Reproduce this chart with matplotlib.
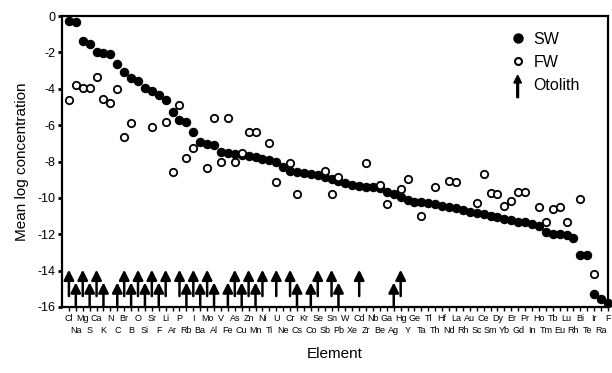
import matplotlib.pyplot as plt
from matplotlib.lines import Line2D
from matplotlib.patches import FancyArrow
from matplotlib.legend_handler import HandlerPatch

plt.rcParams['font.family'] = ['Liberation Sans', 'DejaVu Sans']

# elements in the order of falling seawater concentration
elements = ["Cl", "Na", "Mg", "S", "Ca", "K", "N", "C", "Br", "B",
            "O", "Si", "Sr", "F", "Li", "Ar", "P", "Rb", "I", "Ba",
            "Mo", "Al", "V", "Fe", "As", "Cu", "Zn", "Mn", "Ni", "Ti",
            "U", "Ne", "Cr", "Cs", "Kr", "Co", "Se", "Sb", "Sn", "Pb",
            "W", "Xe", "Cd", "Zr", "Nb", "Be", "Ga", "Ag", "Hg", "Y",
            "Ge", "Ta", "Tl", "Th", "Hf", "Nd", "La", "Rh", "Au", "Sc",
            "Ce", "Sm", "Dy", "Yb", "Er", "Gd", "Pr", "In", "Ho", "Tm",
            "Tb", "Eu", "Lu", "Rh", "Bi", "Te", "Ir", "Ra", "F"]

# seawater, one value per element
sw = [-0.3, -0.35, -1.35, -1.55, -2.0, -2.05, -2.1, -2.65, -3.1, -3.4,
      -3.55, -3.95, -4.1, -4.35, -4.6, -5.3, -5.7, -5.85, -6.4, -6.9,
      -7.05, -7.1, -7.45, -7.55, -7.6, -7.65, -7.7, -7.75, -7.85, -7.9,
      -8.0, -8.3, -8.5, -8.6, -8.65, -8.7, -8.75, -8.85, -8.95, -9.05,
      -9.2, -9.3, -9.35, -9.4, -9.4, -9.45, -9.65, -9.8, -9.95, -10.1,
      -10.2, -10.25, -10.3, -10.35, -10.45, -10.5, -10.55, -10.65, -10.75, -10.85,
      -10.9, -11.0, -11.05, -11.15, -11.2, -11.3, -11.35, -11.45, -11.55, -11.85,
      -12.0, -12.0, -12.05, -12.2, -13.15, -13.15, -15.3, -15.55, -15.8]

# freshwater, only some elements
fw_names = ["Cl", "Na", "Mg", "S", "Ca", "K", "N", "C", "Br", "B",
            "Sr", "Li", "Ar", "P", "Rb", "I", "Mo", "Al", "V", "Fe",
            "As", "Cu", "Zn", "Mn", "Ti", "U", "Cr", "Cs", "Sb", "Sn",
            "Pb", "Zr", "Be", "Ga", "Hg", "Y", "Ta", "Th", "Nd", "La",
            "Sc", "Ce", "Sm", "Dy", "Yb", "Er", "Gd", "Pr", "Ho", "Tm",
            "Tb", "Eu", "Lu", "Bi", "Ir"]
fw = [-4.6, -3.8, -3.97, -3.97, -3.37, -4.58, -4.76, -4.0, -6.63, -5.9,
      -6.12, -5.84, -8.6, -4.89, -7.82, -7.27, -8.37, -5.62, -8.0, -5.62,
      -8.0, -7.55, -6.36, -6.36, -7.0, -9.1, -8.06, -9.78, -8.5, -9.78,
      -8.83, -8.1, -9.3, -10.35, -9.5, -8.97, -11.0, -9.38, -9.05, -9.14,
      -10.26, -8.7, -9.74, -9.8, -10.44, -10.16, -9.65, -9.65, -10.5, -11.3,
      -10.6, -10.5, -11.3, -10.05, -14.18]

# elements measured in otoliths
otolith = ["Cl", "Na", "Mg", "S", "Ca", "K", "C", "Br", "B", "O",
           "Si", "Sr", "F", "Li", "P", "Rb", "I", "Ba", "Mo", "Al",
           "Fe", "As", "Cu", "Zn", "Mn", "Ni", "U", "Cr", "Cs", "Co",
           "Se", "Sn", "Pb", "Cd", "Ag", "Hg"]

x = list(range(len(elements)))
fw_x = [elements.index(n) for n in fw_names]

fig = plt.figure(figsize=(6.12, 3.73), dpi=100)
ax = fig.add_axes([0.1013, 0.177, 0.8922, 0.78])

ax.plot(x, sw, 'o', color='black', markersize=5.8, clip_on=False, zorder=3)
ax.plot(fw_x, fw, 'o', markerfacecolor='white', markeredgecolor='black',
        markeredgewidth=1.3, markersize=5.3, clip_on=False, zorder=4)

for name in otolith:
    i = elements.index(name)
    if i % 2 == 0:
        base, tip = -15.4, -13.95
    else:
        base, tip = -16.0, -14.65
    ax.annotate('', xy=(i, tip), xytext=(i, base),
                arrowprops=dict(arrowstyle='-|>,head_length=0.5,head_width=0.25',
                                lw=1.8, color='black', mutation_scale=12,
                                shrinkA=0, shrinkB=0))

ax.set_xlim(-1.0, 77.44)
ax.set_ylim(-16, 0)
ax.set_yticks(range(-16, 1, 2))
ax.set_yticklabels([str(v) for v in range(-16, 1, 2)])

ax.set_xticks(x[0::2])
ax.set_xticklabels(elements[0::2], fontsize=6.5)
ax.set_xticks(x[1::2], minor=True)
ax.set_xticklabels(elements[1::2], minor=True, fontsize=6.5)
ax.tick_params(axis='x', which='major', length=3, width=1, pad=2)
ax.tick_params(axis='x', which='minor', length=3, width=1, pad=11)
ax.tick_params(axis='y', length=3, width=2, labelsize=9, pad=2)

for s in ax.spines.values():
    s.set_linewidth(1.6)

ax.set_ylabel('Mean log concentration', fontsize=11, labelpad=6)
ax.set_xlabel('Element', fontsize=11, labelpad=8)


def make_arrow(legend, orig_handle, xdescent, ydescent, width, height, fontsize):
    return FancyArrow(width / 2 - xdescent, -ydescent - 0.7 * height, 0, 2.0 * height,
                      width=1.3, head_width=5.5, head_length=5.5,
                      length_includes_head=True, color='black')


handles = [Line2D([], [], marker='o', ls='none', color='black', markersize=6.5),
           Line2D([], [], marker='o', ls='none', markerfacecolor='white',
                  markeredgecolor='black', markeredgewidth=1.5, markersize=5),
           FancyArrow(0, 0, 0, 1, color='black')]
ax.legend(handles, ['SW', 'FW', 'Otolith'], loc='upper left',
          bbox_to_anchor=(0.795, 0.995), frameon=False, fontsize=11.5,
          handlelength=0.9, handletextpad=0.55, labelspacing=0.5,
          handler_map={FancyArrow: HandlerPatch(patch_func=make_arrow)})

plt.savefig('out.png', dpi=100)
